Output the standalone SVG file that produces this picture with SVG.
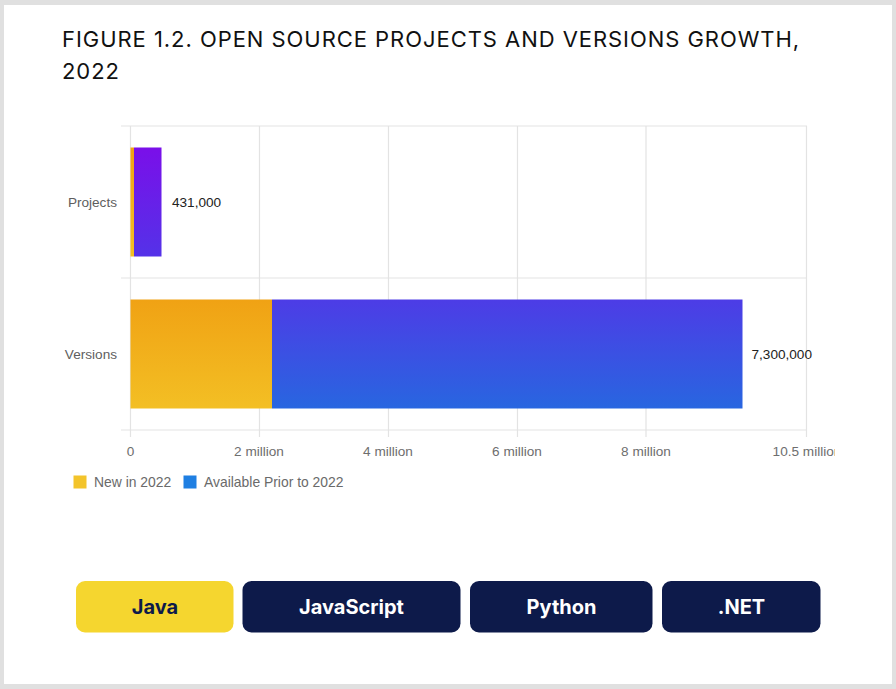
<svg xmlns="http://www.w3.org/2000/svg" width="896" height="689" viewBox="0 0 896 689">
  <style>
    .title { font-family: Inter, "Liberation Sans", sans-serif; font-size: 22px; fill: #111; letter-spacing: 0.95px; }
    .grid { stroke: #e3e3e3; stroke-width: 1.2; fill: none; }
    .cat { font-family: "Liberation Sans", Arial, sans-serif; font-size: 13.6px; fill: #5e5e5e; text-anchor: end; }
    .tick { font-family: "Liberation Sans", Arial, sans-serif; font-size: 13.6px; fill: #6e6e6e; text-anchor: middle; }
    .val { font-family: "Liberation Sans", Arial, sans-serif; font-size: 13.6px; fill: #222; }
    .leg { font-family: "Liberation Sans", Arial, sans-serif; font-size: 13.9px; fill: #6a6a6a; }
    .btn { font-family: Inter, "Liberation Sans", sans-serif; font-size: 20px; font-weight: 700; text-anchor: middle; }
    .btn-dark { fill: #0d1a4a; }
    .btn-on { fill: #f5d62f; }
  </style>
  <defs>
    <linearGradient id="gNew" x1="0" y1="0" x2="0" y2="1">
      <stop offset="0" stop-color="#f0a214"/>
      <stop offset="1" stop-color="#f3bf24"/>
    </linearGradient>
    <linearGradient id="gProj" x1="0" y1="0" x2="0" y2="1">
      <stop offset="0" stop-color="#7a0fe9"/>
      <stop offset="1" stop-color="#5432e8"/>
    </linearGradient>
    <linearGradient id="gVer" x1="0" y1="0" x2="0" y2="1">
      <stop offset="0" stop-color="#4d3ce6"/>
      <stop offset="1" stop-color="#2866e0"/>
    </linearGradient>
    <clipPath id="chartClip">
      <rect x="0" y="0" width="835" height="689"/>
    </clipPath>
  </defs>

  <!-- frame -->
  <rect x="0" y="0" width="896" height="689" fill="#e0e0e0"/>
  <rect x="4" y="5" width="888" height="679" fill="#ffffff"/>

  <!-- heading -->
  <g id="heading">
    <text class="title" x="62" y="47">FIGURE 1.2. OPEN SOURCE PROJECTS AND VERSIONS GROWTH,</text>
    <text class="title" x="62" y="79">2022</text>
  </g>

  <!-- grid and axes -->
  <g id="grid">
    <line class="grid" x1="121" y1="126" x2="807" y2="126"/>
    <line class="grid" x1="121" y1="278" x2="807" y2="278"/>
    <line class="grid" x1="121" y1="430" x2="807" y2="430"/>
    <line class="grid" x1="130.5" y1="126" x2="130.5" y2="437"/>
    <line class="grid" x1="259.5" y1="126" x2="259.5" y2="437"/>
    <line class="grid" x1="388.5" y1="126" x2="388.5" y2="437"/>
    <line class="grid" x1="517.5" y1="126" x2="517.5" y2="437"/>
    <line class="grid" x1="646" y1="126" x2="646" y2="437"/>
    <line class="grid" x1="806.5" y1="126" x2="806.5" y2="437"/>
  </g>

  <g id="x-axis" clip-path="url(#chartClip)">
    <text class="tick" x="130.5" y="456">0</text>
    <text class="tick" x="259" y="456">2 million</text>
    <text class="tick" x="388" y="456">4 million</text>
    <text class="tick" x="517" y="456">6 million</text>
    <text class="tick" x="646" y="456">8 million</text>
    <text class="tick" x="807" y="456">10.5 million</text>
  </g>

  <!-- Projects row -->
  <g id="projects">
    <text class="cat" x="117" y="207">Projects</text>
    <rect x="130.5" y="147.5" width="3.5" height="109" fill="url(#gNew)"/>
    <rect x="134" y="147.5" width="27.5" height="109" fill="url(#gProj)"/>
    <text class="val" x="172" y="207">431,000</text>
  </g>

  <!-- Versions row -->
  <g id="versions">
    <text class="cat" x="117" y="359">Versions</text>
    <rect x="130.5" y="299.5" width="141.5" height="109" fill="url(#gNew)"/>
    <rect x="272" y="299.5" width="470.5" height="109" fill="url(#gVer)"/>
    <text class="val" x="751.5" y="359">7,300,000</text>
  </g>

  <!-- legend -->
  <g id="legend">
    <rect x="73.5" y="475.5" width="13" height="13" fill="#f3c42b"/>
    <text class="leg" x="94" y="486.5">New in 2022</text>
    <rect x="183.5" y="475.5" width="13" height="13" fill="#1f7fe2"/>
    <text class="leg" x="204" y="486.5">Available Prior to 2022</text>
  </g>

  <!-- language tabs -->
  <g id="tab-java">
    <rect class="btn-on" x="76" y="581" width="157.5" height="51.5" rx="9"/>
    <text class="btn" x="155" y="613.5" fill="#0d1a4a">Java</text>
  </g>
  <g id="tab-javascript">
    <rect class="btn-dark" x="242.5" y="581" width="218" height="51.5" rx="9"/>
    <text class="btn" x="351.5" y="613.5" fill="#ffffff">JavaScript</text>
  </g>
  <g id="tab-python">
    <rect class="btn-dark" x="470" y="581" width="182.5" height="51.5" rx="9"/>
    <text class="btn" x="561.5" y="613.5" fill="#ffffff">Python</text>
  </g>
  <g id="tab-net">
    <rect class="btn-dark" x="662" y="581" width="158.5" height="51.5" rx="9"/>
    <text class="btn" x="741.5" y="613.5" fill="#ffffff">.NET</text>
  </g>
</svg>
